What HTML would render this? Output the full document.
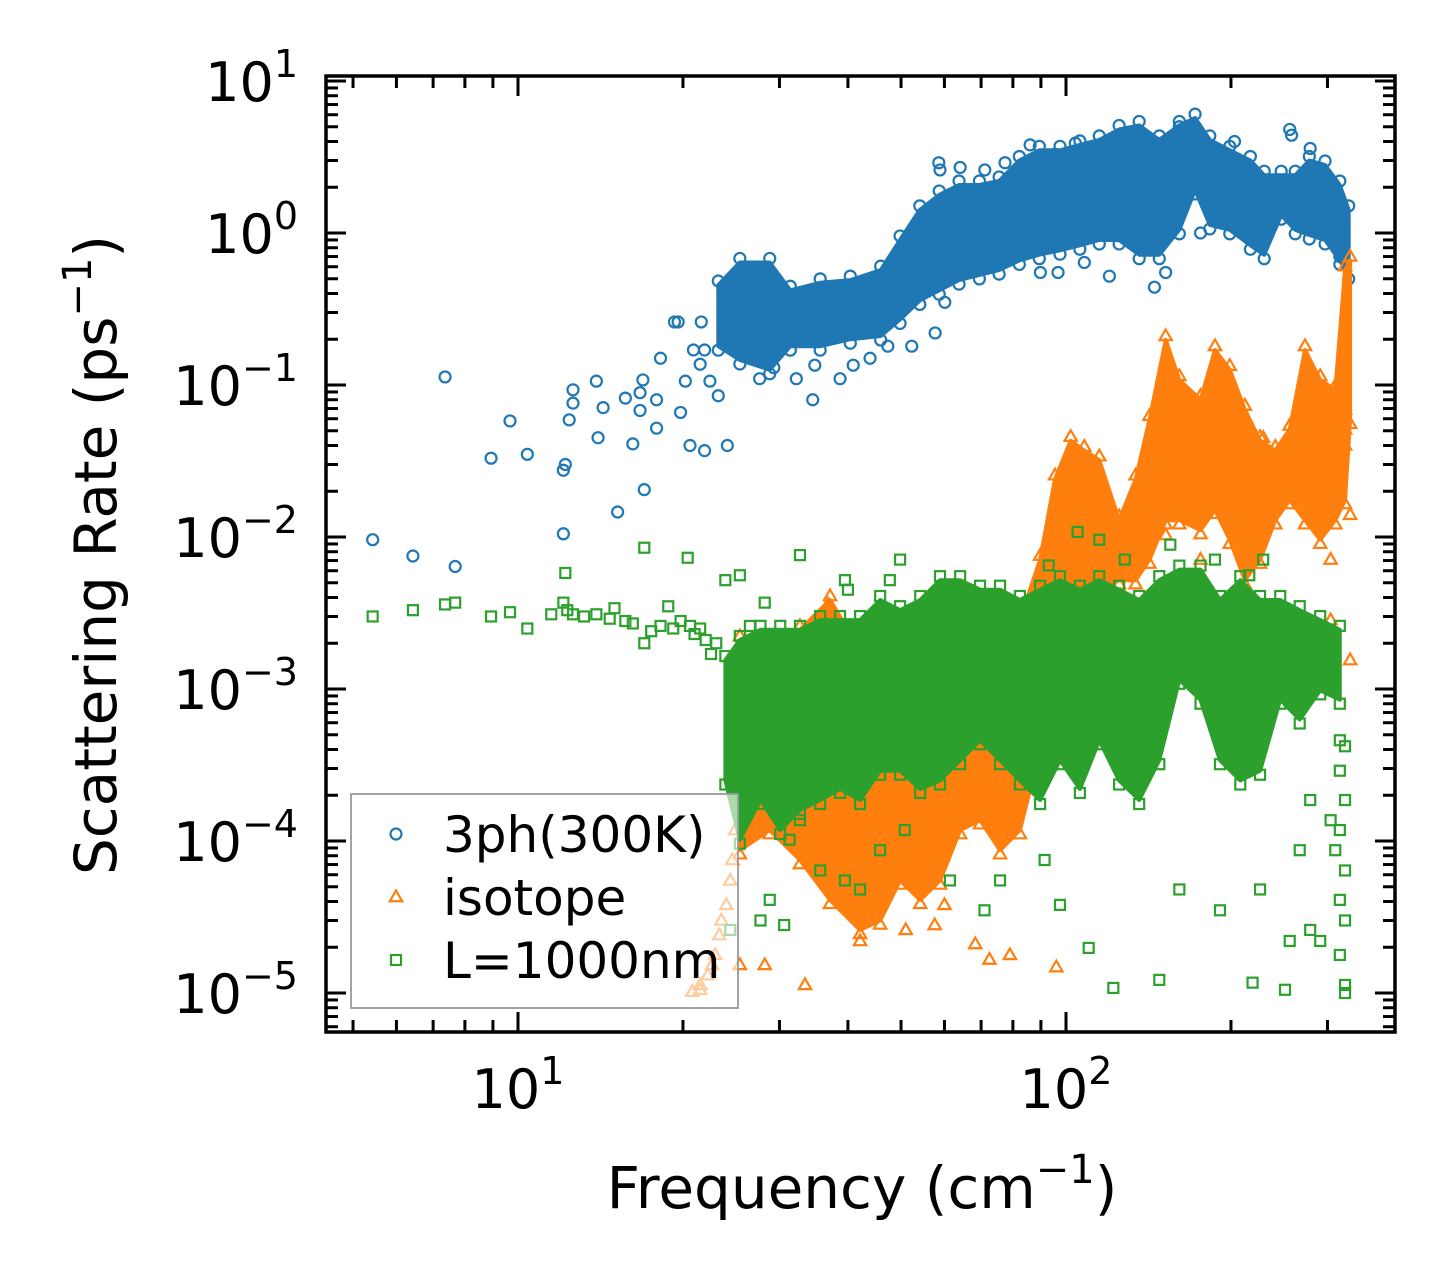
<!DOCTYPE html>
<html><head><meta charset="utf-8"><style>
html,body{margin:0;padding:0;background:#fff;}
svg{display:block;font-family:"DejaVu Sans","Liberation Sans",sans-serif;}
</style></head><body>
<svg id="chart" width="1455" height="1282" viewBox="0 0 1455 1282" xmlns="http://www.w3.org/2000/svg">
<g id="bands"></g>
<g id="marks"></g>
<g id="axes"></g>
<g id="legend"></g>
</svg>
<script>
// ---- data (frequency in cm^-1, rate in ps^-1) ----
const xTickValues = [10, 100];
const xTickLabels = ["10", "10"];
const xTickExps = ["1", "2"];
const yTickValues = [10, 1, 0.1, 0.01, 0.001, 0.0001, 0.00001];
const yTickLabels = ["10","10","10","10","10","10","10"];
const yTickExps = ["1","0","\u22121","\u22122","\u22123","\u22124","\u22125"];
const seriesNames = ["3ph(300K)", "isotope", "L=1000nm"];

// 3ph dense envelope
const phBandFreq = [23.2,25.4,28.8,31.4,35.6,40.4,45.9,49.8,54.1,58.7,63.8,69.5,75.5,82.2,89.4,97.5,106,115,125,136,148,161,172,183,199,217,230,247,262,278,297,316,328];
const phBandHi = [0.455,0.64,0.64,0.42,0.47,0.49,0.57,0.90,1.42,1.78,2.07,2.07,2.2,3.0,3.5,3.5,3.8,4.1,4.8,5.1,4.1,5.1,5.7,4.1,3.5,3.0,2.4,2.4,2.4,3.0,2.8,2.07,1.42];
const phBandLo = [0.18,0.146,0.126,0.18,0.18,0.20,0.21,0.27,0.36,0.42,0.49,0.53,0.57,0.66,0.72,0.77,0.83,0.90,0.90,0.72,0.72,1.05,1.92,1.13,1.05,0.83,0.72,1.31,1.05,0.97,0.90,0.66,0.53];
// 3ph sparse points
const phFreq = [5.43,6.43,7.68,7.36,8.93,9.67,10.4,12.1,12.1,12.2,12.4,12.6,12.6,13.9,14.0,14.3,15.2,15.7,16.2,16.7,16.7,16.9,17.0,17.9,17.9,18.2,19.3,19.8,20.2,20.6,20.9,21.5,21.9,21.9,22.4,23.2,24.1,19.6,21.6,25.2,27.6,29.3,32.2,34.5,34.8,38.7,40.9,43.9,47.3,52.3,57.7,60.1,58.6,58.9,64.1,71.1,77.4,86.0,95.5,104,89.8,96.7,108,120,145,152,176,256,258,279,316,161,203,121];
const phRate = [0.0096,0.0075,0.0064,0.113,0.033,0.058,0.035,0.0275,0.0105,0.030,0.059,0.076,0.093,0.106,0.045,0.071,0.0146,0.082,0.041,0.089,0.068,0.108,0.0205,0.052,0.080,0.150,0.26,0.066,0.106,0.040,0.17,0.137,0.037,0.17,0.106,0.085,0.040,0.26,0.26,0.17,0.11,0.13,0.11,0.08,0.135,0.11,0.135,0.15,0.18,0.18,0.22,0.35,2.9,2.6,2.7,2.6,2.9,3.8,3.3,3.9,0.55,0.55,0.64,0.52,0.44,0.55,1.0,4.8,4.4,3.6,0.7,5.0,4.0,3.7];

// isotope dense envelope
const isoBandFreq = [25.4,28.8,32.7,37.1,42.1,45.8,49.8,54.2,58.9,64.1,69.7,75.8,82.4,89.7,95.5,102,108,115,125,134,142,152,161,176,187,199,212,226,241,256,273,291,310,323,330];
const isoBandHi = [0.0021,0.0021,0.00245,0.00385,0.0018,0.00115,0.00085,0.00063,0.00098,0.00115,0.0018,0.0018,0.00284,0.0071,0.024,0.043,0.037,0.032,0.0129,0.024,0.059,0.198,0.108,0.080,0.17,0.126,0.069,0.043,0.037,0.051,0.17,0.108,0.093,0.57,0.66];
const isoBandLo = [0.000087,0.000118,0.000075,0.000041,0.000026,0.00003,0.000055,0.000041,0.000055,0.000118,0.000137,0.000087,0.000118,0.0004,0.00085,0.0018,0.0052,0.0045,0.0052,0.0052,0.0071,0.0129,0.0129,0.0111,0.0151,0.0096,0.0052,0.0071,0.0129,0.0175,0.0129,0.0096,0.0129,0.0175,0.059];
// isotope sparse points
const isoFreq = [36.8,208,229,212,254,256,278,297,304,323,323,323,330,201,176,152,97.5,104,203,208,304,330,45.8,51,57.6,68.3,72.5,96,28.2,33.4,79,60,42.1,25.4,20.8,21.5,22.2,22.9,23.3,24.0,24.4,24.6,24.9,21.5,22.6,23.5];
const isoRate = [0.0036,0.045,0.045,0.0275,0.040,0.024,0.024,0.0129,0.0071,0.069,0.051,0.040,0.014,0.0129,0.0071,0.0103,0.0071,0.0061,0.0021,0.00155,0.00284,0.00155,0.000041,0.000026,0.000028,0.000021,0.0000166,0.0000148,0.0000153,0.0000113,0.0000178,0.000038,0.000022,0.0000153,0.0000102,0.0000113,0.0000131,0.0000178,0.000024,0.000038,0.000055,0.000075,0.000118,0.0000105,0.0000153,0.00003];

// boundary (L=1000nm) dense envelope
const bdBandFreq = [23.9,25.4,27.7,30.1,32.7,35.6,38.7,42.1,45.8,49.8,54.2,58.9,64.1,69.7,75.8,82.4,89.7,97.5,106,115,125,136,148,161,176,191,208,226,246,267,291,316];
const bdBandHi = [0.00155,0.0021,0.00245,0.00245,0.00245,0.00284,0.00284,0.00284,0.00385,0.0033,0.00385,0.0052,0.0052,0.0045,0.0045,0.00385,0.0045,0.0052,0.0045,0.0052,0.0045,0.00385,0.0052,0.0061,0.0061,0.00385,0.0052,0.00385,0.00385,0.0033,0.00284,0.00245];
const bdBandLo = [0.00025,0.000102,0.000186,0.000118,0.00016,0.000186,0.00022,0.000186,0.00029,0.00029,0.00022,0.00025,0.00034,0.00046,0.00034,0.00025,0.000186,0.00034,0.00022,0.00046,0.00025,0.000186,0.00034,0.00115,0.00085,0.00034,0.00025,0.00029,0.00085,0.00063,0.00098,0.00085];
// boundary sparse points
const bdFreq = [5.43,6.43,7.36,7.68,8.93,9.67,10.4,12.1,12.3,12.6,13.9,14.7,15.7,17.0,17.0,18.2,20.4,20.6,21.5,22.0,23.0,23.9,25.4,26.5,28.2,11.5,13.2,16.2,19.2,19.8,18.8,21,22.5,12.2,15.0,17.5,24.4,27.7,28.8,30.6,31.3,32.7,35.6,39.5,42.1,45.8,50.8,61.4,71.0,75.8,91.4,97.5,110,122,148,161,191,219,251,256,279,291,323,323,316,310,304,229,216,187,155,115,128,105,93,49.8,47.7,39.5,32.7,40,226,267,279,316,323,316,323,316,323,323,316];
const bdRate = [0.0030,0.0033,0.0036,0.0037,0.0030,0.0032,0.0025,0.0037,0.0033,0.0031,0.0031,0.0029,0.0028,0.0085,0.0020,0.0026,0.0073,0.0026,0.0025,0.0021,0.0020,0.0052,0.0056,0.0026,0.0037,0.0031,0.0030,0.0027,0.0025,0.0028,0.0035,0.0023,0.0017,0.0058,0.0034,0.0024,0.000026,0.00003,0.000041,0.000028,0.000102,0.000137,0.000064,0.000055,0.000048,0.000087,0.000118,0.000055,0.000035,0.000055,0.000075,0.000038,0.0000198,0.0000108,0.0000122,0.000048,0.000035,0.0000117,0.0000105,0.000022,0.000026,0.000022,0.0000113,0.00001,0.000041,0.000087,0.000137,0.0071,0.0056,0.0071,0.0089,0.0096,0.0071,0.0108,0.0065,0.0071,0.0052,0.0052,0.0076,0.0045,0.000048,0.000087,0.000186,0.00046,0.00042,0.00029,0.000186,0.000118,0.000064,0.00003,0.0000178];

// ---- axes ----
const L = 326, R = 1395, T = 76, B = 1032;
function xs(f){ return 518 + 548 * (Math.log10(f) - 1); }
function ys(v){ return 233 - 152 * Math.log10(v); }
const NS = "http://www.w3.org/2000/svg";
function mk(tag, attrs, parent){
  const e = document.createElementNS(NS, tag);
  for (const k in attrs) e.setAttribute(k, attrs[k]);
  parent.appendChild(e);
  return e;
}
const C1 = "#1f77b4", C2 = "#ff7f0e", C3 = "#2ca02c";
const bands = document.getElementById('bands');
const marks = document.getElementById('marks');
const axes = document.getElementById('axes');
const legend = document.getElementById('legend');

function circle(x, y, parent){
  return mk('circle', {cx: x, cy: y, r: 5.5, fill: 'none', stroke: C1, 'stroke-width': 2.2}, parent);
}
function tri(x, y, parent){
  const s = 6.5;
  return mk('polygon', {points: `${x},${y-s} ${x-s*0.95},${y+s*0.65} ${x+s*0.95},${y+s*0.65}`, fill: 'none', stroke: C2, 'stroke-width': 2.2}, parent);
}
function sq(x, y, parent){
  return mk('rect', {x: x-5, y: y-5, width: 10, height: 10, fill: 'none', stroke: C3, 'stroke-width': 2.2}, parent);
}
function band(fr, hi, lo, color, name, markFn, g){
  let pts = [];
  for (let i = 0; i < fr.length; i++) pts.push(xs(fr[i]).toFixed(1) + "," + ys(hi[i]).toFixed(1));
  for (let i = fr.length - 1; i >= 0; i--) pts.push(xs(fr[i]).toFixed(1) + "," + ys(lo[i]).toFixed(1));
  const p = mk('polygon', {points: pts.join(" "), fill: color, stroke: color, 'stroke-width': 4, 'stroke-linejoin': 'round'}, g);
  
  
  for (let i = 0; i < fr.length; i++){
    const a = markFn(xs(fr[i]), ys(hi[i]) - 4, g);
    
    
    const b = markFn(xs(fr[i]), ys(lo[i]) + 4, g);
    
    
  }
  return p;
}

// 3ph
const g1 = mk('g', {}, marks);


band(phBandFreq, phBandHi, phBandLo, C1, 'band-3ph', circle, g1);
for (let i = 0; i < phFreq.length; i++){
  const c = circle(xs(phFreq[i]), ys(phRate[i]), g1);
  
  
}
// isotope
const g2 = mk('g', {}, marks);


band(isoBandFreq, isoBandHi, isoBandLo, C2, 'band-isotope', tri, g2);
for (let i = 0; i < isoFreq.length; i++){
  const t = tri(xs(isoFreq[i]), ys(isoRate[i]), g2);
  
  
}
// boundary
const g3 = mk('g', {}, marks);


band(bdBandFreq, bdBandHi, bdBandLo, C3, 'band-boundary', sq, g3);
for (let i = 0; i < bdFreq.length; i++){
  const s = sq(xs(bdFreq[i]), ys(bdRate[i]), g3);
  
  
}

// frame
const frame = mk('rect', {x: L, y: T, width: R-L, height: B-T, fill: 'none', stroke: '#000', 'stroke-width': 3.5}, axes);



// x ticks
const xMin = Math.pow(10, 1 + (L-518)/548), xMax = Math.pow(10, 1 + (R-518)/548);
for (let d = 1; d <= 100; d *= 10){
  for (let m = 1; m <= 9; m++){
    const v = d*m;
    if (v < xMin || v > xMax) continue;
    const x = xs(v), len = m === 1 ? 20 : 12;
    const t1 = mk('line', {x1: x, y1: B, x2: x, y2: B-len, stroke: '#000', 'stroke-width': 3}, axes);
    
    
    const t2 = mk('line', {x1: x, y1: T, x2: x, y2: T+len, stroke: '#000', 'stroke-width': 3}, axes);
    
    
  }
}
// y ticks
const yMax = Math.pow(10, (233-T)/152), yMin = Math.pow(10, (233-B)/152);
for (let d = 1e-6; d <= 10; d *= 10){
  for (let m = 1; m <= 9; m++){
    const v = d*m;
    if (v < yMin || v > yMax) continue;
    const y = ys(v), len = m === 1 ? 20 : 12;
    const t1 = mk('line', {x1: L, y1: y, x2: L+len, y2: y, stroke: '#000', 'stroke-width': 3}, axes);
    
    
    const t2 = mk('line', {x1: R, y1: y, x2: R-len, y2: y, stroke: '#000', 'stroke-width': 3}, axes);
    
    
  }
}
// tick labels
function powLabel(x, y, base, exp, anchor, name){
  const t = mk('text', {x: x, y: y, 'font-size': 54, 'text-anchor': anchor, fill: '#000'}, axes);
  
  
  const a = mk('tspan', {}, t); a.textContent = base;
  const b = mk('tspan', {'font-size': 38, dy: -24}, t); b.textContent = exp;
  return t;
}
for (let i = 0; i < xTickValues.length; i++){
  powLabel(xs(xTickValues[i]), 1108, xTickLabels[i], xTickExps[i], 'middle', 'x-tick-label');
}
for (let i = 0; i < yTickValues.length; i++){
  powLabel(298, ys(yTickValues[i]) + 20, yTickLabels[i], yTickExps[i], 'end', 'y-tick-label');
}
// axis titles
const xt = mk('text', {x: 862, y: 1208, 'font-size': 58, 'text-anchor': 'middle'}, axes);


xt.innerHTML = 'Frequency (cm<tspan font-size="40" dy="-25">\u22121</tspan><tspan dy="25">)</tspan>';
const yt = mk('text', {x: 0, y: 0, 'font-size': 58, 'text-anchor': 'middle', transform: 'translate(116,555) rotate(-90)'}, axes);


yt.innerHTML = 'Scattering Rate (ps<tspan font-size="40" dy="-25">\u22121</tspan><tspan dy="25">)</tspan>';

// legend
const lb = mk('rect', {x: 351, y: 794, width: 387, height: 214, fill: 'rgba(255,255,255,0.6)', stroke: '#999', 'stroke-width': 1.8}, legend);


const rowsY = [834, 897, 960];
for (let i = 0; i < seriesNames.length; i++){
  const y = rowsY[i];
  let m;
  if (i === 0) m = circle(396, y, legend);
  else if (i === 1) m = tri(396, y, legend);
  else m = sq(396, y, legend);
  
  
  const t = mk('text', {x: 443, y: y + 18, 'font-size': 50}, legend);
  
  
  t.textContent = seriesNames[i];
}
</script>
</body></html>
